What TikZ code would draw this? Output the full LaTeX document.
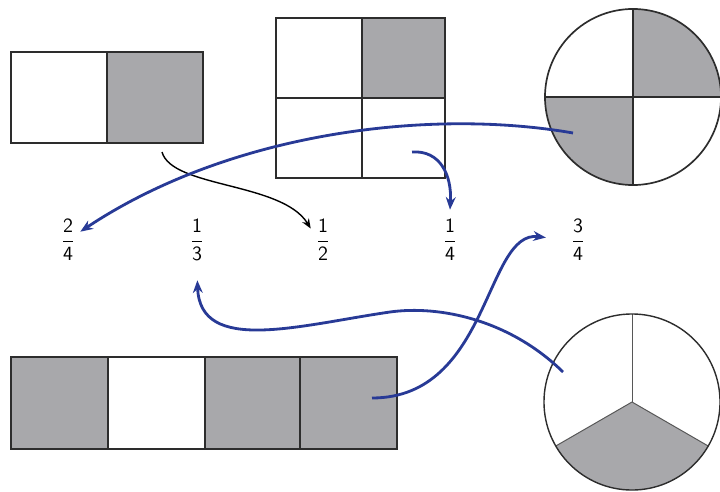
\documentclass[tikz,border=0pt]{standalone}
\usetikzlibrary{arrows.meta}
\definecolor{partgray}{RGB}{168,168,171}
\definecolor{arrowblue}{RGB}{40,58,150}
\definecolor{edge}{RGB}{45,45,45}
\begin{document}
\begin{tikzpicture}[x=0.025cm,y=-0.025cm,
		part/.style={draw=edge,line width=1.2pt},
		thinpart/.style={draw=edge!80,line width=0.7pt},
		frac/.style={font=\Large,minimum width=0.6cm,minimum height=1.5cm,inner sep=0pt},
		bluearrow/.style={draw=arrowblue,line width=2pt,-{Stealth[length=9pt,width=7pt]}},
		blackarrow/.style={draw=black,line width=1pt,-{Stealth[length=7pt,width=5.5pt]}}]
	\useasboundingbox (0,0) rectangle (720,491);
	% halves
	\fill[partgray] (107,52) rectangle (203,143);
	\draw[part] (11,52) rectangle (203,143);
	\draw[part] (107,52)--(107,143);
	% square in quarters
	\fill[partgray] (362,18) rectangle (445,98);
	\draw[part] (276,18) rectangle (445,178);
	\draw[part] (362,18)--(362,178);
	\draw[part] (276,98)--(445,98);
	% circle in quarters
	\fill[partgray] (633,97) -- ++(2.2cm,0pt) arc[start angle=0,end angle=90,radius=2.2cm] -- cycle;
	\fill[partgray] (633,97) -- ++(-2.2cm,0pt) arc[start angle=180,end angle=270,radius=2.2cm] -- cycle;
	\draw[part] (633,97) circle (2.2cm);
	\draw[part] (633,9)--(633,185);
	\draw[part] (545,97)--(721,97);
	% strip in quarters
	\fill[partgray] (11,357) rectangle (108,449);
	\fill[partgray] (205,357) rectangle (397,449);
	\draw[part] (11,357) rectangle (397,449);
	\draw[part] (108,357)--(108,449);
	\draw[part] (205,357)--(205,449);
	\draw[part] (300,357)--(300,449);
	% circle in thirds
	\fill[partgray] (632,402) -- ++(210:2.2cm) arc[start angle=210,end angle=330,radius=2.2cm] -- cycle;
	\draw[thinpart] (632,402) -- ++(90:2.2cm);
	\draw[thinpart] (632,402) -- ++(210:2.2cm);
	\draw[thinpart] (632,402) -- ++(330:2.2cm);
	\draw[part,line width=1pt] (632,402) circle (2.2cm);
	% fractions
	\node[frac] (f24) at (68,240) {$\displaystyle\frac{\mathsf{2}}{\mathsf{4}}$};
	\node[frac] (f13) at (197,240) {$\displaystyle\frac{\mathsf{1}}{\mathsf{3}}$};
	\node[frac] (f12) at (323,240) {$\displaystyle\frac{\mathsf{1}}{\mathsf{2}}$};
	\node[frac] (f14) at (450,240) {$\displaystyle\frac{\mathsf{1}}{\mathsf{4}}$};
	\node[frac] (f34) at (578,240) {$\displaystyle\frac{\mathsf{3}}{\mathsf{4}}$};
	% arrows
	\coordinate (s12) at (162,152);
	\coordinate (s24) at (573,133);
	\coordinate (s14) at (412,152);
	\coordinate (s34) at (372,398);
	\coordinate (s13) at (563,372);
	\draw[blackarrow] (s12) .. controls (172,188) and (282,182) .. (f12.137);
	\draw[bluearrow] (s24) .. controls (430,108) and (230,132) .. (f24.34);
	\draw[bluearrow] (s14) .. controls (440,150) and (452,175) .. (f14.north);
	\draw[bluearrow,shorten >=0.5cm] (s34) .. controls (490,398) and (485,230) .. (f34.west);
	\draw[bluearrow,shorten >=0.25cm] (s13) .. controls (510,320) and (440,305) .. (390,312) .. controls (300,325) and (200,355) .. (f13.south);
\end{tikzpicture}
\end{document}
